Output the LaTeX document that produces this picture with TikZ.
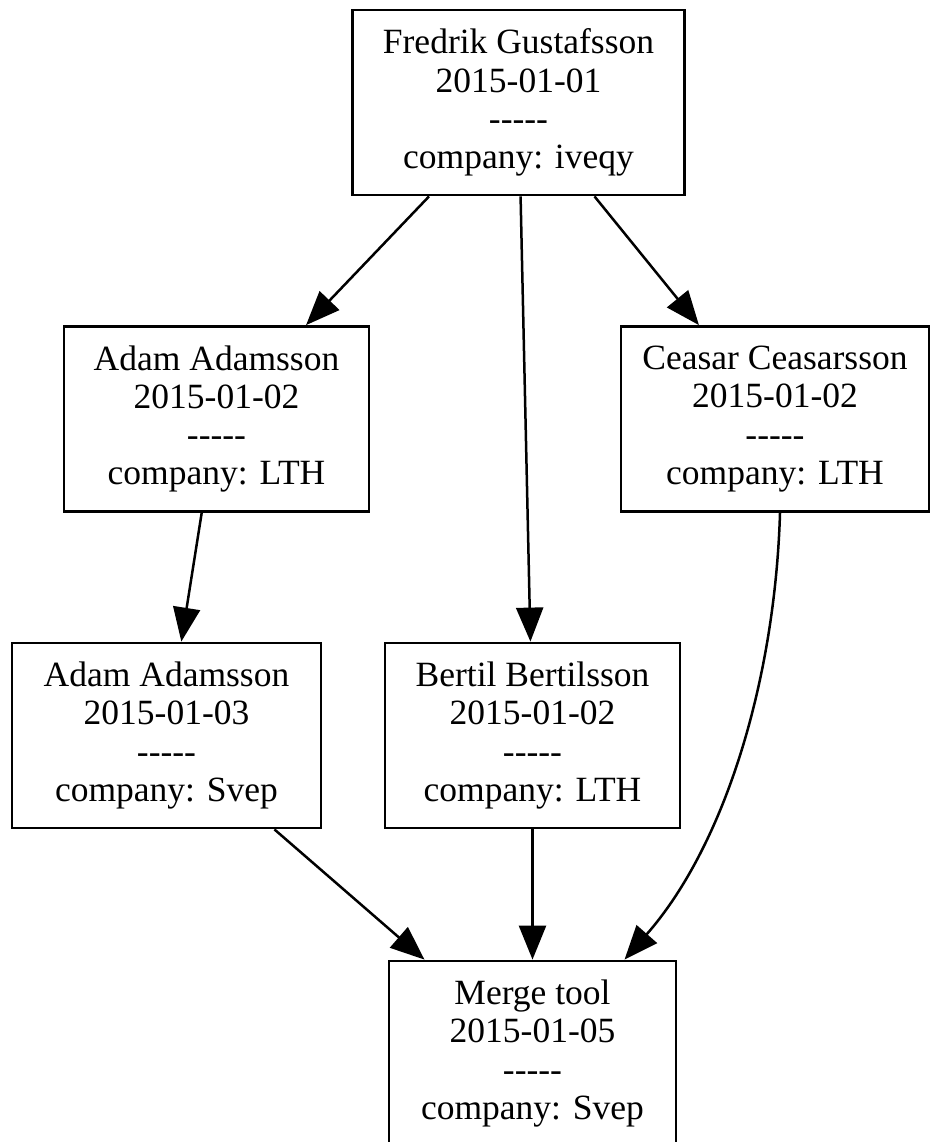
\documentclass[tikz,border=0pt]{standalone}
\usepackage{fontspec}
\setmainfont{Liberation Serif}
\usetikzlibrary{arrows.meta}
% a row of five plain hyphens, kept apart so they do not join into dashes
\newcommand{\hyphenrow}{-\kern0pt-\kern0pt-\kern0pt-\kern0pt-}
\begin{document}
\begin{tikzpicture}[x=1pt,y=-1pt,
  record/.style={draw=black, line width=2.8pt, fill=white, inner sep=0pt,
    align=center, minimum height=185pt,
    font=\fontsize{35.5}{38.3}\selectfont},
  link/.style={draw=black, line width=2.5pt,
    -{Triangle[length=34pt,width=27pt]}}]
\useasboundingbox (0,0) rectangle (936,1142);
\clip (0,0) rectangle (936,1142);

% commits
\node[record, minimum width=332pt] (F)  at (518.5,102.5)  {Fredrik Gustafsson\\2015-01-01\\\hyphenrow\\company: iveqy};
\node[record, minimum width=305pt] (A1) at (216.5,419)    {Adam Adamsson\\2015-01-02\\\hyphenrow\\company: LTH};
\node[record, minimum width=308pt] (C)  at (775,419)      {Ceasar Ceasarsson\\2015-01-02\\\hyphenrow\\company: LTH};
\node[record, minimum width=309pt] (A2) at (166.5,735.5)  {Adam Adamsson\\2015-01-03\\\hyphenrow\\company: Svep};
\node[record, minimum width=295pt] (B)  at (532.5,735.5)  {Bertil Bertilsson\\2015-01-02\\\hyphenrow\\company: LTH};
\node[record, minimum width=287pt] (M)  at (532.5,1053.5) {Merge tool\\2015-01-05\\\hyphenrow\\company: Svep};

% parent links
\draw[link] (F) -- (A1);
\draw[link] (F) -- (B);
\draw[link] (F) -- (C);
\draw[link] (A1) -- (A2);
\draw[link] (A2) -- (M);
\draw[link] (B) -- (M);
\draw[link] ([xshift=5pt]C.south) .. controls (775,680) and (725,845) .. ([xshift=92pt]M.north);
\end{tikzpicture}
\end{document}
